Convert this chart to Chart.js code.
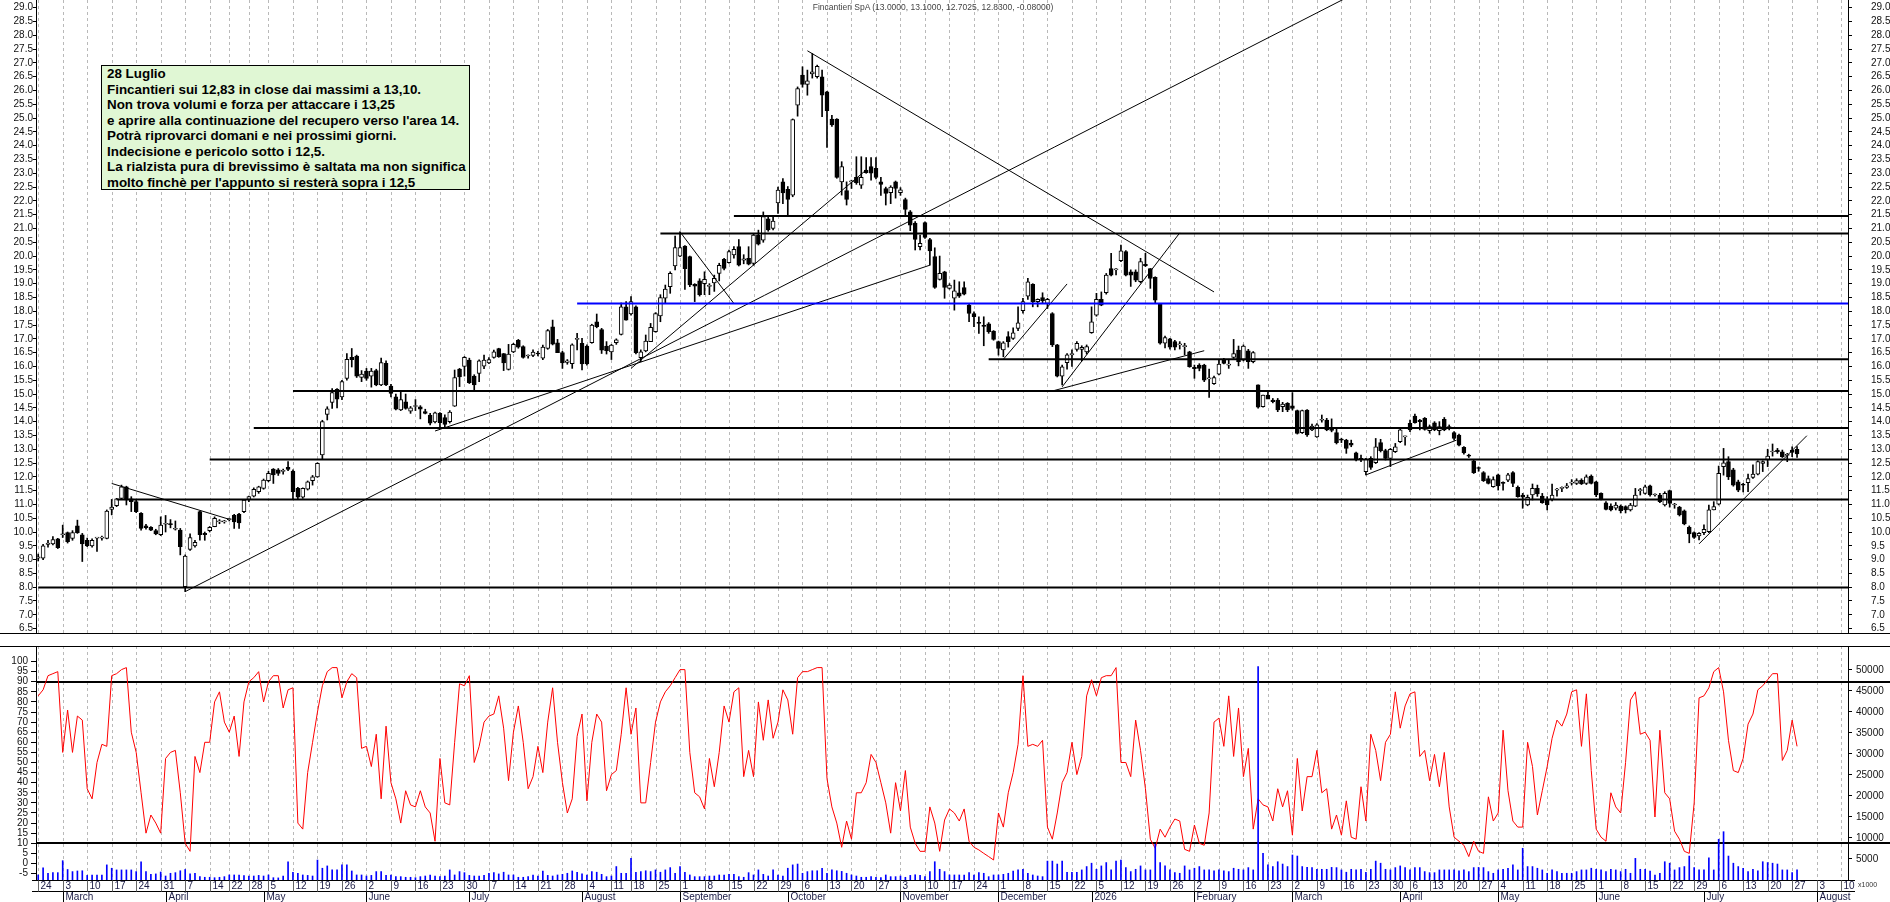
<!DOCTYPE html>
<html>
<head>
<meta charset="utf-8">
<script src="https://cdn.jsdelivr.net/npm/chart.js@4.4.1/dist/chart.umd.min.js"></script>
<style>
  html, body { margin: 0; padding: 0; background: #fff; }
  body { width: 1890px; height: 902px; position: relative; overflow: hidden; font-family: "Liberation Sans", Arial, sans-serif; }
  #priceCanvas { position: absolute; left: 0; top: 0; }
  #lowerCanvas { position: absolute; left: 0; top: 636px; }
  #title { position: absolute; top: 2px; left: 0; width: 1866px; text-align: center; font-size: 8.5px; color: #444; }
  #note { position: absolute; left: 101px; top: 65px; width: 369px; height: 125px; background: #e0f7d4; border: 1px solid #000;
          box-sizing: border-box; padding: 0 0 0 5px; font-size: 13.4px; font-weight: bold; line-height: 15.5px; white-space: nowrap; color: #000; }
</style>
</head>
<body>
<canvas id="priceCanvas" width="1890" height="636"></canvas>
<canvas id="lowerCanvas" width="1890" height="266"></canvas>
<div id="title">Fincantieri SpA (13.0000, 13.1000, 12.7025, 12.8300, -0.08000)</div>
<div id="note">28 Luglio<br>Fincantieri sui 12,83 in close dai massimi a 13,10.<br>Non trova volumi e forza per attaccare i 13,25<br>e aprire alla continuazione del recupero verso l'area 14.<br>Potrà riprovarci domani e nei prossimi giorni.<br>Indecisione e pericolo sotto i 12,5.<br>La rialzista pura di brevissimo è saltata ma non significa<br>molto finchè per l'appunto si resterà sopra i 12,5</div>
<script>
// --- calendario: una etichetta per settimana, sedute per settimana ---
const weekLabels = ['24','3','10','17','24','31','7','14','22','28','5','12','19','26','2','9','16','23','30','7','14','21','28',
  '4','11','18','25','1','8','15','22','29','6','13','20','27','3','10','17','24','1','8','15','22','5','12','19','26','2','9','16','23',
  '2','9','16','23','30','6','13','20','27','4','11','18','25','1','8','15','22','29','6','13','20','27','3','10'];
const weekLen = [5,5,5,5,5,5,5,4,4,4,5,5,5,5,5,5,5,5,5,5,5,5,5,5,4,5,5,5,5,5,5,5,5,5,5,5,5,5,5,5,5,5,5,5,5,5,5,5,5,5,5,5,
  5,5,5,5,4,4,5,5,4,5,5,5,5,5,5,5,5,5,5,5,5,5,5,5];
const monthNames = ['March','April','May','June','July','August','September','October','November','December','2026',
  'February','March','April','May','June','July','August'];
const monthFirst = [5,26,46,67,88,111,131,153,176,196,215,236,256,278,298,318,340,363];

// --- etichette degli assi ---
const priceTicks = [6.5,7,7.5,8,8.5,9,9.5,10,10.5,11,11.5,12,12.5,13,13.5,14,14.5,15,15.5,16,16.5,17,17.5,18,18.5,19,19.5,20,
  20.5,21,21.5,22,22.5,23,23.5,24,24.5,25,25.5,26,26.5,27,27.5,28,28.5,29];
const oscTicks = [-5,0,5,10,15,20,25,30,35,40,45,50,55,60,65,70,75,80,85,90,95,100];
const volTicks = [5000,10000,15000,20000,25000,30000,35000,40000,45000,50000];

// --- prezzi giornalieri ---
const opens = [
  9.05,9.05,9.55,9.57,9.75,9.9,9.98,9.77,10.22,9.9, 9.7,9.5,9.78,9.78,9.77,10.82,10.95,11.22,11.64,11.2,
  11.1,10.68,10.22,10.17,10.05,9.9,10.28,10.3,10.1,10.07, 8.02,9.37,9.5,10.74,9.95,10.05,10.19,10.37,10.37,10.45,
  10.6,10.65,10.74,11.18,11.3,11.46,11.58,11.86,12.28,12.25, 12.2,12.34,12.21,11.58,11.26,11.55,11.86,12.0,12.79,14.26,
  14.7,15.17,14.9,15.57,16.33,16.38,15.6,15.83,15.65,15.85, 15.33,16.11,15.29,14.9,14.42,14.72,14.38,14.55,14.54,14.36,
  14.24,13.99,14.3,14.15,14.0,14.56,15.9,16.0,16.23,15.65, 15.75,16.01,16.13,16.33,16.65,16.47,15.89,16.53,16.95,16.72,
  16.38,16.4,16.48,16.3,16.65,17.44,16.86,16.5,16.15,16.1, 16.98,16.84,16.74,16.86,17.62,17.34,16.74,16.53,16.86,17.16,
  18.16,17.9,18.16,16.32,16.56,16.9,17.26,17.83,18.47,18.89, 19.64,20.0,20.36,19.98,18.98,19.1,19.0,18.9,19.03,19.37,
  19.88,19.76,20.04,20.34,19.85,19.92,19.73,20.76,20.58,21.35, 21.0,21.93,22.69,22.42,22.21,25.47,26.56,26.22,26.6,26.5,
  26.5,25.95,24.96,24.96,22.69,22.37,22.69,22.85,22.57,23.12, 23.24,23.18,22.69,22.45,22.3,22.69,22.3,22.05,21.6,21.2,
  20.34,21.21,20.6,19.98,19.15,19.43,18.83,18.47,18.67,18.86, 18.22,17.92,17.6,17.48,17.54,17.28,16.9,16.6,17.08,17.02,
  17.38,18.02,18.55,18.98,18.35,18.5,18.28,17.92,16.78,15.65, 16.14,16.42,16.62,16.62,16.53,17.22,17.86,18.43,18.67,19.55,
  19.5,19.83,20.16,19.43,19.43,19.07,19.7,19.55,19.23,18.26, 16.84,17.0,16.9,16.78,16.72,16.53,15.97,16.05,16.05,15.55,
  15.38,15.72,16.23,16.05,16.33,16.59,16.23,16.57,16.17,15.33, 14.54,14.96,14.78,14.78,14.54,14.66,14.57,14.4,13.6,14.42,
  13.7,13.45,14.05,14.06,13.74,13.6,13.35,13.33,13.21,12.87, 12.67,12.19,12.67,12.51,13.24,12.95,12.67,12.91,13.27,13.45,
  13.94,14.2,14.06,14.12,13.67,13.96,13.67,14.08,13.82,13.6, 13.51,13.07,12.78,12.58,12.32,12.15,11.94,11.64,12.07,11.78,
  11.88,12.15,11.62,11.34,10.98,11.34,11.58,11.3,11.16,11.18, 11.52,11.58,11.62,11.77,11.76,11.88,11.76,12.03,11.82,11.4,
  11.06,10.94,10.86,10.94,10.92,10.8,10.94,11.5,11.4,11.67, 11.34,11.34,10.98,11.5,10.98,10.9,10.77,10.17,9.98,9.86,
  9.98,10.01,10.8,11.01,12.37,12.55,12.25,11.82,11.72,11.79, 11.98,12.1,12.49,12.61,12.9,12.97,12.91,12.78,12.97,13.0];
const highs = [
  9.2,9.55,9.7,9.83,9.77,10.25,10.0,10.05,10.43,9.95, 9.78,9.75,9.8,9.85,10.8,11.18,11.22,11.7,11.66,11.28,
  11.15,10.7,10.28,10.2,10.1,10.55,10.6,10.45,10.4,10.13, 9.17,9.93,9.7,10.76,10.0,10.2,10.55,10.45,10.42,10.5,
  10.64,10.68,11.18,11.3,11.6,11.66,11.92,12.2,12.3,12.3, 12.28,12.55,12.25,11.62,11.6,11.85,12.05,12.51,14.05,14.54,
  15.2,15.2,15.5,16.47,16.65,16.41,15.85,15.93,15.93,15.9, 16.3,16.2,15.35,15.0,15.1,15.0,14.55,14.8,14.58,14.45,
  14.3,14.35,14.33,14.25,14.4,15.87,15.93,16.36,16.3,15.7, 16.24,16.41,16.32,16.59,16.66,16.47,16.8,16.84,16.98,16.75,
  16.42,16.6,16.55,16.77,17.34,17.68,16.98,16.55,16.25,16.82, 17.2,17.02,16.78,17.53,17.9,17.38,16.9,16.8,17.0,18.3,
  18.35,18.53,18.2,16.6,17.14,17.56,17.95,18.6,18.95,19.43, 20.72,20.88,20.38,20.0,19.0,19.18,19.43,19.0,19.31,19.74,
  19.92,20.22,20.34,20.6,20.05,20.34,20.82,20.94,21.6,21.45, 21.4,22.5,22.81,22.52,24.97,26.13,26.86,26.74,27.34,26.92,
  26.74,25.97,25.1,24.98,23.42,22.69,22.75,23.6,23.6,23.57, 23.57,23.57,22.85,22.5,22.55,22.72,22.48,22.1,21.65,21.25,
  20.76,21.24,20.64,20.3,20.0,19.45,19.0,19.13,19.07,19.07, 18.26,17.98,17.8,17.8,17.59,17.3,16.92,16.9,17.26,17.4,
  18.16,18.47,19.19,19.0,18.45,18.67,18.47,17.95,16.8,16.05, 16.47,16.6,16.9,16.75,16.78,18.16,18.65,18.7,19.37,20.1,
  19.55,20.4,20.2,19.5,19.5,19.92,20.1,19.55,19.25,18.26, 17.1,17.02,16.95,16.9,16.84,16.55,16.05,16.1,16.08,15.9,
  15.65,16.23,16.29,16.26,16.98,16.74,16.78,16.62,16.54,15.33, 14.96,15.12,14.84,14.84,14.7,14.69,15.05,14.42,14.42,14.44,
  13.91,13.93,14.24,14.12,14.1,13.75,13.4,13.36,13.33,12.9, 12.79,12.67,12.73,13.39,13.36,13.0,13.03,13.21,13.76,13.48,
  14.06,14.27,14.08,14.15,13.88,14.0,14.0,14.15,13.88,13.64, 13.55,13.1,12.82,12.6,12.36,12.19,12.03,12.0,12.1,11.82,
  12.13,12.19,11.67,11.4,11.34,11.74,11.7,11.4,11.28,11.74, 11.58,11.64,11.76,11.9,11.93,11.93,12.07,12.07,11.84,11.42,
  11.1,11.02,11.07,10.98,10.95,11.04,11.58,11.58,11.7,11.7, 11.38,11.4,11.46,11.52,11.04,10.93,10.8,10.22,10.01,9.98,
  10.26,10.98,11.1,12.39,13.03,12.73,12.31,11.88,11.76,12.1, 12.43,12.58,12.58,13.0,13.19,13.03,12.97,12.85,13.09,13.1];
const lows = [
  8.95,9.0,9.45,9.53,9.4,9.8,9.6,9.7,9.95,8.93, 9.47,9.45,9.3,9.7,9.75,10.62,10.92,11.18,10.98,10.74,
  10.7,10.07,10.1,10.05,9.9,9.87,10.0,10.15,10.07,9.17, 7.84,9.33,9.45,9.7,9.7,10.0,10.19,10.3,10.32,10.4,
  10.13,10.13,10.7,11.1,11.27,11.4,11.55,11.82,11.76,12.05, 12.1,12.22,11.18,11.2,11.22,11.52,11.7,11.98,12.63,14.06,
  14.48,14.5,14.8,15.5,15.98,15.6,15.45,15.5,15.25,15.3, 15.3,15.3,14.9,14.42,14.4,14.45,14.3,14.4,14.1,14.28,
  13.88,13.95,13.76,13.76,13.95,14.55,15.27,15.65,15.38,15.15, 15.45,15.92,16.1,16.3,16.33,15.85,15.87,16.5,16.66,16.3,
  16.3,16.35,16.38,16.25,16.62,16.78,16.5,15.93,16.08,15.93, 16.6,15.87,16.05,16.84,17.4,16.47,16.45,16.25,16.8,17.14,
  17.68,17.86,16.45,16.17,16.53,16.9,17.24,17.62,18.28,18.65, 19.5,19.98,18.79,18.89,18.35,18.55,18.6,18.6,18.72,19.1,
  19.5,19.74,19.92,19.64,19.72,19.68,19.67,20.4,20.5,20.9, 20.95,21.55,21.9,21.45,22.15,25.07,26.12,25.83,26.45,26.45,
  25.05,23.94,24.7,22.82,22.21,21.85,22.45,22.6,22.45,23.0, 22.75,22.8,22.2,21.85,21.9,22.1,22.2,21.49,20.92,20.22,
  20.22,20.64,19.67,18.83,19.13,18.47,18.8,18.04,18.5,18.59, 17.62,17.44,17.2,16.75,17.2,16.95,16.41,16.35,16.7,16.98,
  17.3,17.93,18.43,18.16,18.16,18.3,18.1,16.72,15.62,15.33, 15.9,16.0,16.55,16.2,16.45,17.2,17.82,18.2,18.62,19.28,
  19.32,19.8,19.28,18.9,19.07,19.03,19.62,18.83,18.28,16.81, 16.67,16.63,16.6,16.63,16.42,15.97,15.57,15.84,15.45,14.88,
  15.35,15.69,16.09,15.93,16.29,16.02,16.2,15.93,16.13,14.49, 14.52,14.9,14.68,14.36,14.36,14.36,14.42,13.55,13.57,13.46,
  13.67,13.43,13.98,13.67,13.63,13.19,13.24,12.85,13.09,12.58, 12.55,12.07,12.27,12.48,12.9,12.61,12.37,12.88,13.24,13.15,
  13.64,13.94,13.7,13.69,13.58,13.67,13.52,13.67,13.7,13.33, 13.12,12.82,12.7,12.12,12.2,11.83,11.74,11.62,11.52,11.52,
  11.82,11.64,11.26,10.86,10.95,11.16,11.29,11.04,10.8,11.13, 11.3,11.46,11.58,11.7,11.72,11.72,11.72,11.74,11.28,11.16,
  10.8,10.76,10.8,10.69,10.69,10.76,10.92,11.34,11.37,11.3, 11.3,11.06,10.94,10.9,10.86,10.58,10.26,9.61,9.77,9.71,
  9.9,9.98,10.8,10.98,12.06,11.9,11.66,11.46,11.45,11.46, 11.94,12.07,12.19,12.37,12.75,12.85,12.7,12.55,12.73,12.7];
const closes = [
  9.1,9.5,9.6,9.73,9.43,9.92,9.65,9.98,9.98,9.57, 9.5,9.7,9.8,9.8,10.76,10.9,11.2,11.64,11.16,11.1,
  10.74,10.13,10.16,10.07,9.93,10.25,10.3,10.27,10.13,9.47, 9.13,9.8,9.63,9.9,9.9,10.17,10.5,10.4,10.37,10.45,
  10.37,10.33,11.16,11.28,11.55,11.64,11.88,12.13,12.07,12.12, 12.2,12.27,11.46,11.26,11.58,11.82,12.0,12.49,14.0,14.46,
  15.05,14.81,15.45,16.26,16.25,15.65,15.72,15.57,15.83,15.33, 16.14,15.33,15.02,14.45,14.8,14.48,14.5,14.57,14.45,14.3,
  13.94,14.32,13.96,13.9,14.35,15.6,15.62,16.33,15.41,15.33, 16.2,16.23,16.25,16.53,16.35,16.13,16.45,16.8,16.7,16.33,
  16.4,16.52,16.45,16.7,17.3,16.81,16.5,16.13,16.2,16.78, 16.98,16.09,16.09,17.5,17.44,16.59,16.57,16.77,16.96,18.16,
  17.68,18.35,16.5,16.53,16.92,17.42,17.92,18.5,18.8,19.37, 20.31,20.31,19.54,18.95,18.91,18.6,19.16,18.92,19.19,19.66,
  19.55,20.16,20.24,19.67,19.9,19.71,20.76,20.43,21.43,20.95, 21.27,22.39,22.29,22.05,24.95,26.07,26.22,26.35,26.68,26.88,
  25.83,25.27,24.75,22.85,23.24,22.05,22.69,22.66,22.85,23.02, 23.0,22.85,22.6,22.27,22.5,22.45,22.4,21.69,21.12,20.6,
  20.46,20.68,20.19,18.86,19.37,18.86,18.95,18.74,18.55,18.62, 17.92,17.8,17.56,17.45,17.26,16.98,16.65,16.86,16.9,17.22,
  17.58,18.35,19.07,18.35,18.43,18.38,18.43,16.78,15.65,15.99, 16.42,16.47,16.84,16.69,16.72,17.62,18.43,18.22,19.31,19.31,
  19.5,20.19,19.31,19.31,19.13,19.8,19.65,19.19,18.4,16.84, 17.05,16.7,16.7,16.78,16.72,15.99,15.92,15.93,15.5,15.55,
  15.6,16.09,16.11,16.05,16.47,16.17,16.74,16.17,16.5,14.52, 14.96,14.81,14.72,14.42,14.64,14.42,14.48,13.57,14.4,13.52,
  13.84,13.88,14.08,13.7,13.68,13.24,13.33,13.03,13.15,12.61, 12.63,12.63,12.34,13.09,12.95,12.67,13.0,13.09,13.7,13.45,
  13.7,13.96,14.0,13.72,13.82,13.7,13.82,13.7,13.76,13.39, 13.15,12.87,12.75,12.15,12.3,11.86,11.76,11.9,11.67,11.76,
  12.07,11.76,11.28,11.26,11.26,11.58,11.38,11.06,10.98,11.34, 11.55,11.58,11.67,11.79,11.86,11.74,12.0,11.76,11.34,11.18,
  10.82,10.8,10.98,10.77,10.8,10.98,11.34,11.5,11.64,11.34, 11.34,11.1,11.4,11.04,10.98,10.62,10.29,9.93,9.8,9.95,
  10.1,10.8,10.92,12.13,12.51,12.0,11.7,11.52,11.7,11.94, 12.1,12.55,12.55,12.75,12.92,12.91,12.73,12.8,12.88,12.83];

// --- oscillatore (0-100) e volumi ---
const stoch = [
  83,86,93,94,95,55,76,55,73,71, 37,32,50,59,58,93,94,96,97,65, 55,35,15,24,20,15,52,55,56,35,
  10,6,53,45,60,60,80,85,70,65, 73,53,80,90,92,95,80,90,93,93, 77,86,87,20,17,45,60,75,88,95,
  97,97,82,90,94,92,57,58,48,64, 32,68,40,32,20,36,29,28,36,28, 25,11,52,30,29,60,89,88,93,50,
  58,70,73,74,83,67,41,65,78,60, 37,43,58,45,70,87,60,40,25,32, 63,74,31,60,74,70,36,44,46,64,
  87,64,77,30,30,50,70,80,85,88, 92,96,96,55,35,33,27,52,38,55, 78,70,85,87,43,56,43,80,61,81,
  62,70,86,81,64,92,95,95,96,97, 97,42,28,20,8,21,12,35,35,40, 54,50,40,30,15,40,26,46,18,10,
  6,6,28,20,6,
  21.5,27,25,21,27,11,8,6.7,5,3.4, 1.7,25,18,35,45,59,93,58,59,58, 61,18,12,25,40,45,60,44,53,83,
  91,83,92,93,93,97,50,50,43,71, 56,37,12,7.5,17,13,18,22,21,7, 6,19,10,9,25,70,72,58,83,53,
  77,43,57,17,32,29,28,21,37,28, 36,14,52,26,43,43,56,35,37,17, 24,14,31,13,12,38,21,64,56,41,
  60,64,85,67,78,84,85,53,56,41, 54,38,55,28,13,11,9,3.4,11,6, 5,33,21,25,66,36,21,18,18,60,
  48,24,36,48,62,71,68,74,85,86, 58,84,46,17,13,11,35,28,25,50, 81,85,64,65,61,23,66,35,32,16,
  12,6,5,30,82,83,87,95,97,85, 61,46,45,52,69,74,86,88,91,94, 94,51,56,71,58];
const volume = [
  1200,2900,1600,1750,1750,4600,2500,2000,2150,2200, 1100,1200,1200,1200,3600,2800,2400,2400,2400,2400,
  2000,4300,2000,1350,1450,1900,950,1600,1750,2200, 2500,1450,1600,800,650,650,550,650,800,
  1200,1200,1200,1050,950,950,1100,950,1200,550, 500,950,4300,1850,1600,1200,1100,950,4750,2800,
  3350,2400,2400,3600,3600,2150,1200,1200,950,1100, 2000,2000,1100,1200,800,800,650,650,550,800,
  950,1200,950,800,950,2400,1200,2000,1750,1100, 950,950,1100,1600,1750,1450,1850,1200,1200,650,
  650,800,1200,950,2150,1100,950,1200,1350, 1600,2150,1850,1450,1200,2000,1850,1350,800,950,
  3200,1600,1600,5150,1850,2000,2200,2000,2400,1850, 2400,2950,1600,3200,1850,1200,800,800,800,950,
  950,1200,1200,1350,1350,800,650,1750,1200,2400, 1350,950,2400,1200,950,2800,3600,3800,1600,2000,
  2200,2200,2800,1600,2400,2200,2050,1600,1200,950, 650,650,800,650,550,1200,800,800,950,650,
  1100,1250,1100,800,2000,4350,2550,
  2000,1200,1200,1200,1200,1750,1200,1750,1600, 800,1200,1200,1350,1600,2150,2400,2550,1600,1200,
  950,800,4500,4500,3800,4500,1850,1850,1850,2400, 3200,4000,2550,3350,4150,2400,4500,4750,2950,2000,
  2550,3350,2400,2400,8500,4150,3350,2400,1750,1600, 3350,2400,2800,3200,2400,2400,2200,2400,2200,2000,
  2800,2550,2400,2950,2400,50800,6350,3600,3200,4350, 3800,3200,5950,5700,3200,3000,2950,2550,2550,2550,
  3000,2950,2400,1850,2550,2400,2550,1850,2550,4500, 4000,2550,2400,2950,3350,2950,2400,2950,2950,
  2000,1750,1750,2400,2400,2400,2400,2200,2400,2000, 2950,3000,2950,2000,1600,2400,2550,2800,3600,2400,
  7550,3200,3200,2800,2400,1600,2400,2000,1600,1600, 1600,2000,2400,2400,2800,2550,2400,2000,2550,2400,
  2000,2550,1600,5150,2550,2550,2150,1200,1600,4350, 4000,2400,2950,3200,5700,2950,2400,2400,5250,2400,
  9700,11500,5700,4000,3200,2800,2000,2550,2200,4350, 4150,4000,3800,2400,2400,1750,2400];

// --- livelli orizzontali e trendline (seduta, prezzo) ---
const levelPrice = [21.45, 20.82, 18.28, 16.26, 15.11, 13.77, 12.63, 11.18, 7.99];
const levelFrom  = [142, 127, 110, 194, 52, 44, 35, 16, 0];
const trendStart = [[30,7.84],[81,13.66],[121,15.93],[157,27.44],[15,11.76],[131,20.88],[197,16.26],[209,15.26],[207,15.11],[271,12.07],[339,9.57]];
const trendEnd   = [[268,29.45],[182,19.67],[169,23.12],[240,18.7],[39,10.46],[142,18.28],[210,18.99],[233,20.84],[238,16.57],[289.5,13.33],[361,13.49]];

const X_MIN = -0.45, X_MAX = 369.4;
const weekIdx = [];
let acc = 0;
weekLen.forEach(n => { weekIdx.push(acc); acc += n; });

Chart.defaults.font.family = '"Liberation Sans", Arial, sans-serif';
Chart.defaults.font.size = 10;
Chart.defaults.color = '#000';

function noPad(s, w) { s.width = w; s.paddingTop = 0; s.paddingBottom = 0; }
function fixTicks(list) { return s => { s.ticks = list.map(v => ({ value: v })); }; }

function drawWeekGrid(chart) {
  const { ctx, chartArea: a, scales: { x } } = chart;
  ctx.save();
  ctx.strokeStyle = '#b9b9b9';
  ctx.lineWidth = 1;
  ctx.setLineDash([3, 3]);
  weekIdx.forEach(v => {
    const px = Math.round(x.getPixelForValue(v)) + 0.5;
    ctx.beginPath(); ctx.moveTo(px, a.top); ctx.lineTo(px, a.bottom); ctx.stroke();
  });
  ctx.restore();
}

const priceFrame = {
  id: 'priceFrame',
  beforeDatasetsDraw(chart) { drawWeekGrid(chart); },
  afterDraw(chart) {
    const { ctx, chartArea: a } = chart;
    ctx.save();
    ctx.strokeStyle = '#000';
    ctx.beginPath(); ctx.moveTo(0, a.bottom + 0.5); ctx.lineTo(chart.width, a.bottom + 0.5); ctx.stroke();
    ctx.restore();
  }
};

const lowerFrame = {
  id: 'lowerFrame',
  beforeDatasetsDraw(chart) {
    drawWeekGrid(chart);
    const { ctx, chartArea: a, scales: { yO } } = chart;
    ctx.save();
    ctx.strokeStyle = '#000';
    ctx.lineWidth = 2;
    [90, 10].forEach(v => {
      const py = Math.round(yO.getPixelForValue(v));
      ctx.beginPath(); ctx.moveTo(a.left, py); ctx.lineTo(chart.width, py); ctx.stroke();
    });
    ctx.restore();
  },
  afterDraw(chart) {
    const { ctx, chartArea: a, scales: { x } } = chart;
    ctx.save();
    ctx.strokeStyle = '#000';
    ctx.lineWidth = 1;
    ctx.beginPath(); ctx.moveTo(0, a.top + 0.5); ctx.lineTo(chart.width, a.top + 0.5); ctx.stroke();
    const yb = a.bottom + 0.5;
    ctx.beginPath(); ctx.moveTo(a.left - 4, yb); ctx.lineTo(a.right + 7, yb); ctx.stroke();
    ctx.beginPath(); ctx.moveTo(a.left - 4, yb + 11); ctx.lineTo(a.right + 7, yb + 11); ctx.stroke();
    ctx.font = '10px "Liberation Sans", Arial, sans-serif';
    ctx.fillStyle = '#1a1a44';
    ctx.textAlign = 'left';
    ctx.textBaseline = 'middle';
    ctx.strokeStyle = '#666';
    weekIdx.forEach((v, k) => {
      const px = Math.round(x.getPixelForValue(v)) + 0.5;
      ctx.beginPath(); ctx.moveTo(px, yb); ctx.lineTo(px, yb + 11); ctx.stroke();
      ctx.fillText(weekLabels[k], px + 2, yb + 6);
    });
    ctx.strokeStyle = '#000';
    monthFirst.forEach((v, k) => {
      const px = Math.round(x.getPixelForValue(v)) + 0.5;
      ctx.beginPath(); ctx.moveTo(px, yb + 11); ctx.lineTo(px, chart.height); ctx.stroke();
      ctx.fillText(monthNames[k], px + 2, yb + 17);
    });
    ctx.font = '7px "Liberation Sans", Arial, sans-serif';
    ctx.fillStyle = '#333';
    ctx.fillText('x1000', a.right + 10, yb + 5);
    ctx.restore();
  }
};

// --- grafico prezzi ---
const wickData = highs.map((h, i) => ({ x: i, y: [lows[i], h] }));
const bodyData = opens.map((o, i) => ({ x: i, y: [Math.min(o, closes[i]), Math.max(o, closes[i])] }));
const bodyFill = opens.map((o, i) => closes[i] >= o ? '#ffffff' : '#000000');

const lineSets = [];
levelPrice.forEach((p, k) => {
  lineSets.push({
    type: 'line', yAxisID: 'yL', order: 0,
    data: [{ x: levelFrom[k], y: p }, { x: X_MAX, y: p }],
    borderColor: k === 2 ? '#0000ff' : '#000000', borderWidth: 2, pointRadius: 0
  });
});
trendStart.forEach((s, k) => {
  lineSets.push({
    type: 'line', yAxisID: 'yL', order: 0,
    data: [{ x: s[0], y: s[1] }, { x: trendEnd[k][0], y: trendEnd[k][1] }],
    borderColor: '#000000', borderWidth: 1, pointRadius: 0
  });
});

const priceAxis = (pos, w, pad, tl) => ({
  type: 'linear', position: pos, min: 6.34, max: 29.28,
  afterFit: s => noPad(s, w),
  afterBuildTicks: fixTicks(priceTicks),
  ticks: { padding: pad, callback: v => Number(v).toFixed(1), font: { size: 10 }, color: '#111', autoSkip: false },
  grid: { drawOnChartArea: false, tickLength: tl, tickColor: '#000' },
  border: { color: '#000' }
});

new Chart(document.getElementById('priceCanvas'), {
  type: 'bar',
  data: {
    datasets: [
      ...lineSets,
      { type: 'bar', yAxisID: 'yL', order: 1, data: bodyData, backgroundColor: bodyFill, borderColor: '#000', borderWidth: 1,
        borderSkipped: false, barThickness: 4, grouped: false, minBarLength: 1 },
      { type: 'bar', yAxisID: 'yL', order: 2, data: wickData, backgroundColor: '#000', borderWidth: 0, barThickness: 1, grouped: false }
    ]
  },
  options: {
    responsive: false, animation: false, devicePixelRatio: 1,
    layout: { padding: { top: 0, bottom: 3, left: 0, right: 0 } },
    plugins: { legend: { display: false }, tooltip: { enabled: false } },
    scales: {
      x: { type: 'linear', min: X_MIN, max: X_MAX, display: false, offset: false },
      yL: priceAxis('left', 36, 0, 3),
      yR: priceAxis('right', 42, 19, 4)
    }
  },
  plugins: [priceFrame]
});

// --- pannello inferiore: oscillatore e volumi ---
new Chart(document.getElementById('lowerCanvas'), {
  type: 'bar',
  data: {
    datasets: [
      { type: 'bar', yAxisID: 'yV', order: 0, data: volume.map((v, i) => ({ x: i, y: v })),
        backgroundColor: '#0000ff', borderWidth: 0, barThickness: 1, grouped: false },
      { type: 'line', yAxisID: 'yO', order: 1, data: stoch.map((v, i) => ({ x: i, y: v })),
        borderColor: '#ff0000', borderWidth: 1, pointRadius: 0, tension: 0 }
    ]
  },
  options: {
    responsive: false, animation: false, devicePixelRatio: 1,
    layout: { padding: { top: 10, bottom: 22, left: 0, right: 0 } },
    plugins: { legend: { display: false }, tooltip: { enabled: false } },
    scales: {
      x: { type: 'linear', min: X_MIN, max: X_MAX, display: false, offset: false },
      yO: {
        type: 'linear', position: 'left', min: -8.2, max: 107.7,
        afterFit: s => noPad(s, 36),
        afterBuildTicks: fixTicks(oscTicks),
        ticks: { padding: 3, color: '#111', autoSkip: false, callback: v => String(v) },
        grid: { drawOnChartArea: false, tickLength: 5, tickColor: '#000' },
        border: { color: '#000' }
      },
      yV: {
        type: 'linear', position: 'right', min: 0, max: 55700,
        afterFit: s => noPad(s, 42),
        afterBuildTicks: fixTicks(volTicks),
        ticks: { padding: 4, color: '#111', autoSkip: false, callback: v => String(v) },
        grid: { drawOnChartArea: false, tickLength: 4, tickColor: '#000' },
        border: { color: '#000' }
      }
    }
  },
  plugins: [lowerFrame]
});
</script>
</body>
</html>
